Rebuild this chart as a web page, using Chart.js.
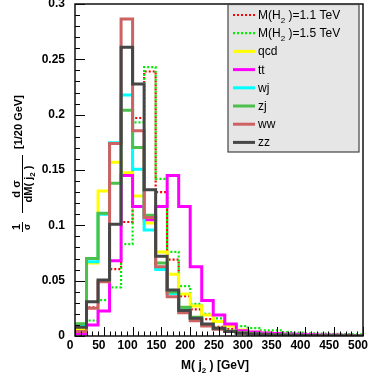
<!DOCTYPE html>
<html>
<head>
<meta charset="utf-8">
<script src="https://cdn.jsdelivr.net/npm/chart.js@4.4.1/dist/chart.umd.min.js"></script>
<style>
  html, body { margin: 0; padding: 0; background: #fff; }
  #wrap { width: 374px; height: 383px; }
</style>
</head>
<body>
<div id="wrap"><canvas id="mjj"></canvas></div>
<script>
// lower edges of the 20 GeV bins
const massLow = [0, 20, 40, 60, 80, 100, 120, 140, 160, 180, 200, 220, 240, 260, 280,
                 300, 320, 340, 360, 380, 400, 420, 440, 460, 480];
const massMax = 500;

// normalised distributions, one value per bin
const sig11 = [0.002, 0.026, 0.049, 0.0605, 0.103, 0.197, 0.239, 0.130, 0.069, 0.036, 0.024, 0.0153, 0.0083,
               0.0063, 0.0045, 0.0033, 0.0025, 0.002, 0.0016, 0.0013, 0.001, 0.0008, 0.0007, 0.0005, 0.0004];
const sig15 = [0.001, 0.014, 0.0325, 0.044, 0.083, 0.193, 0.243, 0.142, 0.076, 0.045, 0.029, 0.020, 0.016,
               0.009, 0.009, 0.0072, 0.005, 0.005, 0.0035, 0.003, 0.0025, 0.0022, 0.002, 0.0018, 0.0015];
const qcd   = [0.006, 0.066, 0.131, 0.157, 0.1475, 0.1265, 0.102, 0.076, 0.0557, 0.038, 0.027, 0.019, 0.013,
               0.009, 0.0055, 0.0035, 0.0025, 0.0018, 0.0012, 0.0009, 0.0007, 0.0005, 0.0004, 0.0003, 0.0002];
const ttbar = [0.002, 0.010, 0.0226, 0.068, 0.145, 0.117, 0.105, 0.117, 0.145, 0.117, 0.0626, 0.032, 0.019,
               0.0108, 0.0048, 0.0036, 0.0028, 0.0022, 0.0018, 0.0015, 0.0012, 0.001, 0.0008, 0.0006, 0.0005];
const wjets = [0.009, 0.067, 0.110, 0.1746, 0.2177, 0.1506, 0.0958, 0.060, 0.0385, 0.024, 0.016, 0.010, 0.0065,
               0.004, 0.0028, 0.002, 0.0014, 0.001, 0.0007, 0.0005, 0.0004, 0.0003, 0.0002, 0.0002, 0.0001];
const zjets = [0.011, 0.070, 0.111, 0.138, 0.204, 0.1704, 0.109, 0.066, 0.0398, 0.026, 0.017, 0.0105, 0.007,
               0.0045, 0.003, 0.002, 0.0015, 0.001, 0.0008, 0.0006, 0.0004, 0.0003, 0.0002, 0.0002, 0.0001];
const wwjj  = [0.004, 0.025, 0.049, 0.174, 0.2864, 0.1855, 0.107, 0.0626, 0.0355, 0.021, 0.0138, 0.009, 0.006,
               0.004, 0.0026, 0.0018, 0.0012, 0.0009, 0.0006, 0.0005, 0.0004, 0.0003, 0.0002, 0.0002, 0.0001];
const zzjj  = [0.008, 0.031, 0.0506, 0.101, 0.261, 0.2276, 0.1322, 0.072, 0.0415, 0.023, 0.016, 0.0108, 0.007,
               0.004, 0.0025, 0.0018, 0.0012, 0.0008, 0.0006, 0.0005, 0.0004, 0.0003, 0.0002, 0.0002, 0.0001];

// legend labels ("_" lowers the next character)
const seriesNames = ['M(H_2 )=1.1 TeV', 'M(H_2 )=1.5 TeV', 'qcd', 'tt', 'wj', 'zj', 'ww', 'zz'];
const seriesData = [sig11, sig15, qcd, ttbar, wjets, zjets, wwjj, zzjj];
const seriesColors = ['#ff0000', '#00ee00', '#ffff00', '#ff00ff', '#00ffff', '#4cc04c', '#cc6262', '#464646'];
const seriesDotted = [true, true, false, false, false, false, false, false];
const drawOrder = [7, 6, 5, 4, 3, 2, 1, 0]; // lower = drawn on top

const FONT = '"Liberation Sans", Arial, sans-serif';

// histogram outline: one point per lower edge, plus the upper edge of the last bin
function histPoints(values) {
  const pts = values.map((v, i) => ({ x: massLow[i], y: v }));
  pts.push({ x: massMax, y: values[values.length - 1] });
  return pts;
}

// text with "_x" subscripts
function richText(ctx, str, x, y, size, weight, measureOnly) {
  const parts = str.split(/_(.)/);
  let cx = x;
  parts.forEach((p, i) => {
    const sub = i % 2 === 1;
    ctx.font = `${weight} ${sub ? Math.round(size * 0.7) : size}px ${FONT}`;
    if (!measureOnly) ctx.fillText(p, cx, y + (sub ? size * 0.3 : 0));
    cx += ctx.measureText(p).width;
  });
  return cx - x;
}

const rootStyle = {
  id: 'rootStyle',
  afterDatasetsDraw(chart) {
    const { ctx, chartArea: a, scales: { x, y } } = chart;
    ctx.save();
    ctx.strokeStyle = '#000';
    ctx.lineWidth = 1;
    ctx.beginPath();
    for (let v = 0; v <= massMax; v += 10) {
      const px = Math.round(x.getPixelForValue(v)) + 0.5;
      const len = v % 50 === 0 ? 9 : 4.5;
      ctx.moveTo(px, a.bottom);
      ctx.lineTo(px, a.bottom - len);
    }
    for (let k = 0; k <= 30; k++) {
      const py = Math.round(y.getPixelForValue(k / 100)) + 0.5;
      const len = k % 5 === 0 ? 10 : 5;
      ctx.moveTo(a.left, py);
      ctx.lineTo(a.left + len, py);
    }
    ctx.stroke();
    ctx.lineWidth = 1.5;
    ctx.strokeStyle = '#111';
    ctx.strokeRect(a.left, a.top, a.right - a.left, a.bottom - a.top);
    ctx.restore();
  },
  afterDraw(chart) {
    const { ctx } = chart;
    ctx.save();
    ctx.fillStyle = '#000';
    ctx.textBaseline = 'alphabetic';

    // legend box
    const lx = 228, ly = 4.5, lw = 131, lh = 147.5;
    ctx.fillStyle = '#e6e6e6';
    ctx.fillRect(lx, ly, lw, lh);
    ctx.strokeStyle = '#444';
    ctx.lineWidth = 1.2;
    ctx.strokeRect(lx, ly, lw, lh);
    chart.data.datasets.forEach((ds, i) => {
      const cy = 15 + i * 18.2;
      ctx.strokeStyle = ds.borderColor;
      ctx.lineWidth = ds.borderWidth;
      ctx.setLineDash(ds.borderDash || []);
      ctx.beginPath();
      ctx.moveTo(233, cy);
      ctx.lineTo(255, cy);
      ctx.stroke();
      ctx.setLineDash([]);
      ctx.fillStyle = '#000';
      richText(ctx, seriesNames[i], 258, cy + 4, 12, 'normal');
    });

    // x axis title
    const xt = 'M( j_2 ) [GeV]';
    const xw = richText(ctx, xt, 0, 0, 12, 'bold', true);
    richText(ctx, xt, 215 - xw / 2, 369, 12, 'bold');

    // y axis title, rotated
    ctx.translate(22, 235);
    ctx.rotate(-Math.PI / 2);
    ctx.lineWidth = 1;
    ctx.strokeStyle = '#000';
    ctx.textAlign = 'center';
    ctx.font = `bold 11px ${FONT}`;
    ctx.fillText('1', 8, -2);
    ctx.font = `bold 9px ${FONT}`;
    ctx.fillText('\u03c3', 8, 8);
    ctx.beginPath();
    ctx.moveTo(3, 0.5); ctx.lineTo(13, 0.5);
    ctx.moveTo(22, 0.5); ctx.lineTo(80, 0.5);
    ctx.stroke();
    ctx.font = `bold 11px ${FONT}`;
    ctx.fillText('d \u03c3', 46, -2);
    ctx.textAlign = 'left';
    const dw = richText(ctx, 'dM( j_2 )', 0, 0, 11, 'bold', true);
    richText(ctx, 'dM( j_2 )', 51 - dw / 2, 10, 11, 'bold');
    ctx.font = `bold 11px ${FONT}`;
    ctx.fillText('[1/20 GeV]', 86, 0);
    ctx.restore();
  }
};

new Chart(document.getElementById('mjj'), {
  type: 'line',
  data: {
    datasets: seriesData.map((vals, i) => ({
      label: seriesNames[i],
      data: histPoints(vals),
      borderColor: seriesColors[i],
      borderWidth: seriesDotted[i] ? 2.2 : 3,
      borderDash: seriesDotted[i] ? [2, 2] : [],
      stepped: 'before',
      fill: false,
      pointRadius: 0,
      order: drawOrder[i]
    }))
  },
  options: {
    responsive: true,
    maintainAspectRatio: false,
    animation: false,
    layout: { padding: { left: 0, right: 11, top: 4, bottom: 0 } },
    plugins: { legend: { display: false }, tooltip: { enabled: false } },
    scales: {
      x: {
        type: 'linear', min: 0, max: massMax,
        grid: { display: false, drawTicks: false },
        border: { display: false },
        ticks: { stepSize: 50, autoSkip: false, maxRotation: 0, padding: 2, labelOffset: -5,
                 color: '#000', font: { family: FONT, weight: 'bold', size: 12 } },
        afterFit(scale) { scale.height = 47; scale.paddingLeft = 0; scale.paddingRight = 0; }
      },
      y: {
        min: 0, max: 0.3,
        grid: { display: false, drawTicks: false },
        border: { display: false },
        ticks: { stepSize: 0.05, padding: 10,
                 callback: (v) => String(+v.toFixed(2)),
                 color: '#000', font: { family: FONT, weight: 'bold', size: 12 } },
        afterFit(scale) { scale.width = 75; scale.paddingTop = 0; scale.paddingBottom = 0; }
      }
    }
  },
  plugins: [rootStyle]
});
</script>
</body>
</html>
